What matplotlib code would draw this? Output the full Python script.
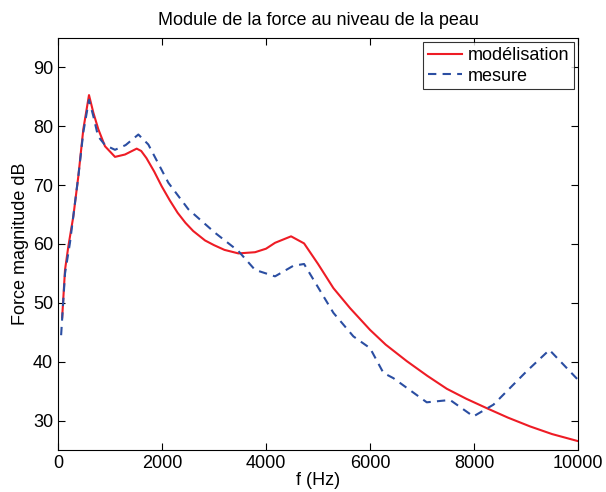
import matplotlib
matplotlib.use("Agg")
import matplotlib.pyplot as plt

# Modélisation (courbe rouge)
f_mod = [80, 135, 199, 295, 391, 487, 596, 680, 775, 904, 1096, 1288, 1513,
         1600, 1700, 1850, 1994, 2150, 2300, 2450, 2600, 2827, 3000, 3200,
         3468, 3788, 4000, 4173, 4481, 4731, 5000, 5295, 5615, 6000, 6300,
         6705, 7100, 7475, 7850, 8244, 8650, 9077, 9500, 10000]
F_mod = [47.5, 55.6, 59.6, 64.7, 71.5, 79.5, 85.3, 82.3, 79.5, 76.6, 74.8,
         75.2, 76.2, 75.8, 74.6, 72.3, 69.8, 67.4, 65.3, 63.6, 62.2, 60.6,
         59.8, 59.0, 58.4, 58.6, 59.2, 60.2, 61.3, 60.1, 56.6, 52.5, 49.1,
         45.4, 42.9, 40.1, 37.6, 35.4, 33.7, 32.1, 30.5, 29.0, 27.7, 26.5]

# Mesure (courbe bleue pointillée)
f_mes = [60, 135, 230, 391, 487, 596, 680, 770, 904, 1096, 1300, 1545, 1737,
         2122, 2506, 3019, 3468, 3788, 4173, 4525, 4731, 5295, 5679, 6000,
         6256, 6449, 7090, 7538, 7987, 8372, 9013, 9448, 10000]
F_mes = [44.5, 55.0, 60.2, 71.5, 79.0, 84.5, 81.7, 78.3, 76.8, 76.0, 76.8,
         78.6, 76.9, 70.4, 65.9, 61.9, 58.8, 55.6, 54.5, 56.3, 56.6, 48.3,
         44.3, 42.3, 38.1, 37.2, 33.1, 33.5, 30.7, 32.7, 38.4, 42.0, 36.9]

plt.rcParams['font.family'] = ['Liberation Sans', 'DejaVu Sans']

fig = plt.figure(figsize=(6.06, 4.92), dpi=100)
ax = fig.add_axes([0.0957, 0.0854, 0.8583, 0.8374])

ax.plot(f_mod, F_mod, color='#ee1c25', linewidth=1.5, label='modélisation')
ax.plot(f_mes, F_mes, color='#2b4ea2', linewidth=1.5, linestyle=(0, (4, 3)), label='mesure')

ax.set_xlim(0, 10000)
ax.set_ylim(25, 95)
ax.set_xticks([0, 2000, 4000, 6000, 8000, 10000])
ax.set_yticks([30, 40, 50, 60, 70, 80, 90])
ax.tick_params(direction='in', top=True, right=True, labelsize=13, length=5)
for s in ax.spines.values():
    s.set_linewidth(0.8)

ax.set_xlabel('f (Hz)', fontsize=13, labelpad=0)
ax.set_ylabel('Force magnitude dB', fontsize=13, labelpad=3)
ax.set_title('Module de la force au niveau de la peau', fontsize=13, pad=9)

leg = ax.legend(loc='upper right', fontsize=13, fancybox=False, edgecolor='black',
                handlelength=1.9, handletextpad=0.3, borderpad=0.25, labelspacing=0.2,
                borderaxespad=0.25)
leg.get_frame().set_linewidth(0.8)

plt.savefig('out.png', dpi=100)
plt.close()
